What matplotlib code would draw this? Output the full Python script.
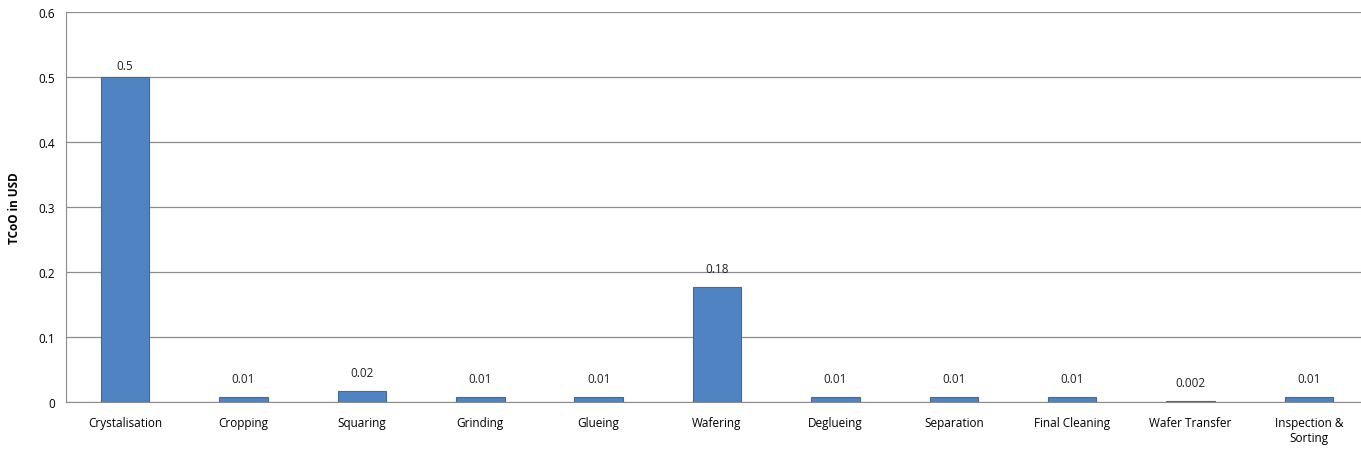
import matplotlib.pyplot as plt

steps = ['Crystalisation', 'Cropping', 'Squaring', 'Grinding', 'Glueing', 'Wafering',
         'Deglueing', 'Separation', 'Final Cleaning', 'Wafer Transfer', 'Inspection &\nSorting']
tcoo = [0.5, 0.008, 0.017, 0.008, 0.008, 0.177, 0.008, 0.008, 0.008, 0.002, 0.008]
value_labels = ['0.5', '0.01', '0.02', '0.01', '0.01', '0.18', '0.01', '0.01', '0.01', '0.002', '0.01']

plt.rcParams['font.family'] = ['Open Sans', 'DejaVu Sans']

fig = plt.figure(figsize=(13.61, 4.6), dpi=100)
ax = fig.add_axes([66 / 1361, 1 - 403 / 460, 1 - 66 / 1361, 390 / 460])

x = range(len(steps))
ax.bar(x, tcoo, width=0.41, color='#5083C1', edgecolor='#3B6BA3', linewidth=0.8, zorder=3)

# labels sit a bit above each bar, but stay inside the plot area
for i, (v, lab) in enumerate(zip(tcoo, value_labels)):
    ax.text(i, min(v + 0.018, 0.508), lab, ha='center', va='bottom', fontsize=8.5, color='#222222')

ax.set_xlim(-0.5, 10.44)
ax.set_ylim(0, 0.6)
ax.set_yticks([0, 0.1, 0.2, 0.3, 0.4, 0.5, 0.6])
ax.set_yticklabels(['0', '0.1', '0.2', '0.3', '0.4', '0.5', '0.6'])
ax.set_xticks(list(x))
ax.set_xticklabels(steps, fontsize=8.5)
ax.tick_params(axis='y', labelsize=8.5, length=0, pad=8)
ax.tick_params(axis='x', length=0, pad=10)
ax.yaxis.grid(True, color='#8c8c8c', linewidth=0.9, zorder=0)
ax.set_axisbelow(True)

for s in ['top', 'right']:
    ax.spines[s].set_visible(False)
ax.spines['left'].set_color('#8c8c8c')
ax.spines['bottom'].set_color('#8c8c8c')

ax.set_ylabel('TCoO in USD', fontsize=8.5, fontweight='bold', labelpad=12)

fig.savefig('out.png', dpi=100)
